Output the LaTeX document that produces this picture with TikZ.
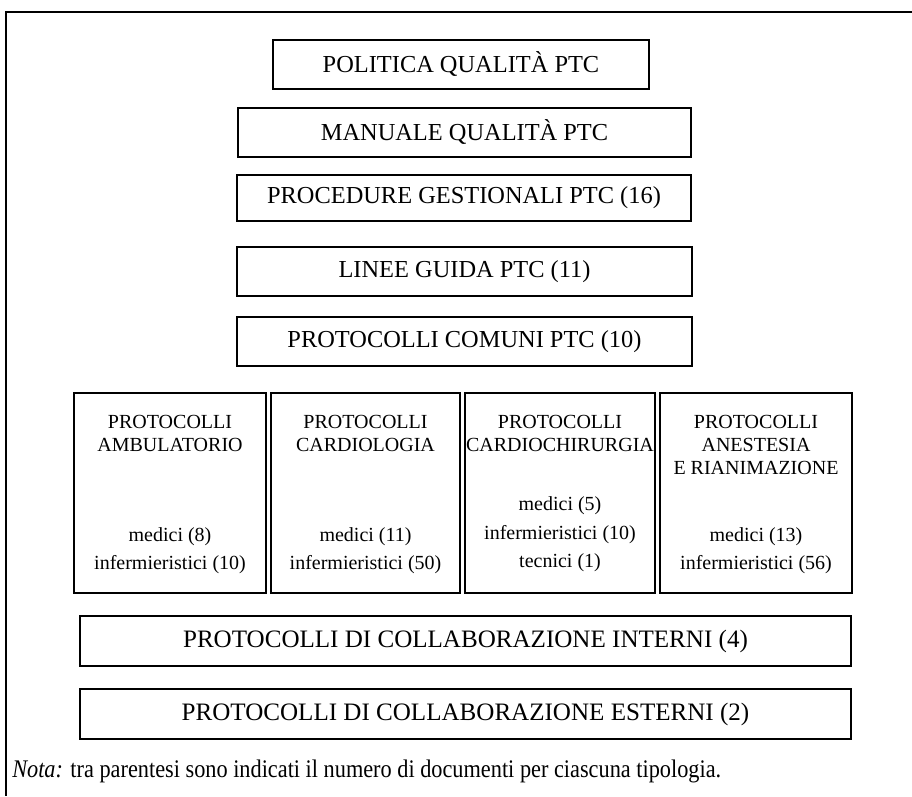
\documentclass[tikz,border=0pt]{standalone}
\usepackage{fontspec}
\setmainfont{Liberation Serif}
\newfontfamily\notefont[FakeStretch=0.88]{Liberation Serif}
\begin{document}
\begin{tikzpicture}[x=0.75pt,y=-0.75pt,
  frameline/.style={line width=0.9pt},
  levelbox/.style={draw, line width=1.3pt, inner sep=0pt,
    font=\fontsize{18.3}{21}\selectfont},
  widebox/.style={levelbox, minimum width=578.25pt, minimum height=37.5pt,
    font=\fontsize{18.8}{21}\selectfont},
  unitbox/.style={draw, line width=1.3pt, inner sep=0pt,
    minimum width=#1, minimum height=150pt},
  unittext/.style={inner sep=0pt, font=\fontsize{15}{17}\selectfont},
  notetext/.style={inner sep=0pt, anchor=base west,
    font=\notefont\fontsize{19}{22}\selectfont}]
\useasboundingbox (0,0) rectangle (912,796);

% open outer frame
\coordinate (ftl) at (6,12);
\coordinate (ftr) at (912,12);
\coordinate (fbl) at (6,796);
\draw[frameline] (ftr) -- (ftl) -- (fbl);

% document levels
\node[levelbox, minimum width=282pt, minimum height=36.75pt] (politica) at (461,64.5) {POLITICA QUALITÀ PTC};
\node[levelbox, minimum width=339.75pt, minimum height=36.75pt] (manuale) at (464.5,132.5) {MANUALE QUALITÀ PTC};
\node[levelbox, minimum width=340.5pt, minimum height=34.5pt] (procedure) at (464,198) {PROCEDURE GESTIONALI PTC (16)};
\node[levelbox, minimum width=341.25pt, minimum height=36.75pt] (linee) at (464.5,271.5) {LINEE GUIDA PTC (11)};
\node[levelbox, minimum width=341.25pt, minimum height=36.75pt] (comuni) at (464.5,341.5) {PROTOCOLLI COMUNI PTC (10)};

% unit protocols
\node[unitbox=144pt] (amb) at (170,493) {};
\node[unitbox=141.75pt] (card) at (365.5,493) {};
\node[unitbox=142.5pt] (cch) at (560,493) {};
\node[unitbox=144pt] (ane) at (756,493) {};

\node[unittext] (amb1) at (170,422) {PROTOCOLLI};
\node[unittext] (amb2) at (170,445) {AMBULATORIO};
\node[unittext] (amb3) at (170,537) {medici (8)};
\node[unittext] (amb4) at (170,565) {infermieristici (10)};

\node[unittext] (card1) at (365.5,422) {PROTOCOLLI};
\node[unittext] (card2) at (365.5,445) {CARDIOLOGIA};
\node[unittext] (card3) at (365.5,537) {medici (11)};
\node[unittext] (card4) at (365.5,565) {infermieristici (50)};

\node[unittext] (cch1) at (560,422) {PROTOCOLLI};
\node[unittext] (cch2) at (560,445) {CARDIOCHIRURGIA};
\node[unittext] (cch3) at (560,506) {medici (5)};
\node[unittext] (cch4) at (560,535) {infermieristici (10)};
\node[unittext] (cch5) at (560,563) {tecnici (1)};

\node[unittext] (ane1) at (756,422) {PROTOCOLLI};
\node[unittext] (ane2) at (756,445) {ANESTESIA};
\node[unittext] (ane3) at (756,468) {E RIANIMAZIONE};
\node[unittext] (ane4) at (756,537) {medici (13)};
\node[unittext] (ane5) at (756,565) {infermieristici (56)};

% collaboration protocols
\node[widebox] (interni) at (465.5,641) {PROTOCOLLI DI COLLABORAZIONE INTERNI (4)};
\node[widebox] (esterni) at (465.5,714) {PROTOCOLLI DI COLLABORAZIONE ESTERNI (2)};

% footnote
\node[notetext] (nota) at (12,777) {\textit{Nota:} tra parentesi sono indicati il numero di documenti per ciascuna tipologia.};
\end{tikzpicture}
\end{document}
